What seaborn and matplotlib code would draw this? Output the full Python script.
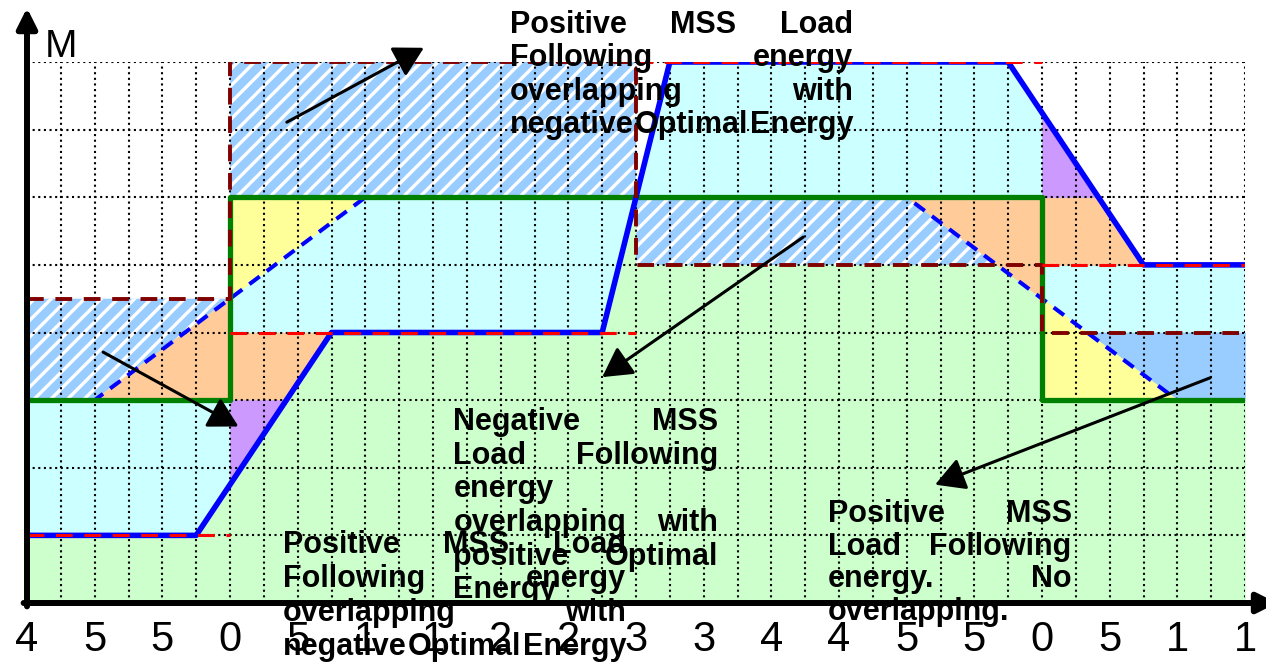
import numpy as np
import matplotlib
matplotlib.use("Agg")
import matplotlib.pyplot as plt
import seaborn as sns

# ---------------------------------------------------------------- data
# time axis: 36 grid columns, labelled every second column
tick_pos = list(range(0, 37, 2))
tick_labels = ["4", "5", "5", "0", "5", "1", "1", "2", "2", "3",
               "3", "4", "4", "5", "5", "0", "5", "1", "1"]

# MSS load demand (step) and the MSS load-following trajectory (ramped)
load_edges = [0, 6, 18, 30]
load_levels = [1, 4, 8, 5]
follow_x = [0, 5, 9, 17, 19, 29, 33, 36]
follow_y = [1, 1, 4, 4, 8, 8, 5, 5]

# optimal energy set-point (step) and its ramped trajectory
opt_edges = [0, 6, 30]
opt_levels = [3, 6, 3]
opt_ramp_x = [0, 2, 10, 26, 34, 36]
opt_ramp_y = [3, 3, 6, 6, 3, 3]

# band limit; flags mark the segments whose band overlaps
band_edges = [0, 6, 18, 30]
band_levels = [4.5, 8, 5, 4]
band_overlap = [True, True, True, False]

X_END = 36
Y_TOP = 8

# annotation arrows: (start, tip)
arrows = [((7.68, 7.11), (11.73, 8.21)),
          ((2.25, 3.71), (6.25, 2.61)),
          ((22.94, 5.41), (17.00, 3.34)),
          ((34.97, 3.33), (26.84, 1.75))]

notes = [
    [["Positive", "MSS", "Load"], ["Following", "energy"],
     ["overlapping", "with"], ["negative", "Optimal", "Energy"]],
    [["Positive", "MSS", "Load"], ["Following", "energy"],
     ["overlapping", "with"], ["negative", "Optimal", "Energy"]],
    [["Negative", "MSS"], ["Load", "Following"], ["energy"],
     ["overlapping", "with"], ["positive", "Optimal"], ["Energy"]],
    [["Positive", "MSS"], ["Load", "Following"], ["energy.", "No"],
     ["overlapping."]],
]

# ---------------------------------------------------------------- style
sns.set_style("white")
plt.rcParams["font.family"] = ["Liberation Sans", "DejaVu Sans"]
plt.rcParams["text.color"] = "black"
plt.rcParams["xtick.color"] = "black"
plt.rcParams["xtick.labelcolor"] = "black"
plt.rcParams["hatch.linewidth"] = 2.4
plt.rcParams["hatch.color"] = "white"

C_GREEN_FILL = "#CCFFCC"
C_CYAN = "#CCFFFF"
C_BLUE_FILL = "#99CCFF"
C_ORANGE = "#FFCC99"
C_PURPLE = "#CC99FF"
C_YELLOW = "#FFFF99"
C_GREEN = "#008000"
C_BLUE = "#0000FF"
C_RED = "#FF0000"
C_MAROON = "#800000"

W, H = 1266, 665
fig = plt.figure(figsize=(W / 100, H / 100), dpi=100)
ax = fig.add_axes([27 / W, 62 / H, 1218 / W, 541 / H])
ax.set_xlim(0, X_END)
ax.set_ylim(0, Y_TOP)
for sp in ax.spines.values():
    sp.set_visible(False)

# ---------------------------------------------------------------- curves on a fine grid
xs = np.linspace(0, X_END, 36001)


def step_values(edges, levels):
    idx = np.searchsorted(edges, xs, side="right") - 1
    return np.asarray(levels, float)[idx]


S = step_values(load_edges, load_levels)
L = np.interp(xs, follow_x, follow_y)
O = step_values(opt_edges, opt_levels)
R = np.interp(xs, opt_ramp_x, opt_ramp_y)
B = step_values(band_edges, band_levels)
hatched = np.asarray(band_overlap)[np.searchsorted(band_edges, xs, side="right") - 1]

load_lo, load_hi = np.minimum(L, S), np.maximum(L, S)
opt_lo, opt_hi = np.minimum(O, R), np.maximum(O, R)


def fill(lo, hi, mask=None, color="none", hatch=None):
    where = hi > lo + 1e-9
    if mask is not None:
        where &= mask
    if hatch:
        ax.fill_between(xs, lo, hi, where=where, facecolor=color,
                        edgecolor="white", hatch=hatch, linewidth=0, zorder=1)
    else:
        ax.fill_between(xs, lo, hi, where=where, facecolor=color,
                        edgecolor=color, linewidth=0.5, zorder=1)


# area under every curve
fill(np.zeros_like(xs), np.minimum.reduce([L, O, R, B]), color=C_GREEN_FILL)

# gap between the load band and the optimal band
below = load_hi <= opt_lo
gap_lo = np.where(below, load_hi, opt_hi)
gap_hi = np.where(below, opt_lo, load_lo)
fill(gap_lo, gap_hi, color=C_CYAN)

# band limit against the optimal envelope
above = B >= opt_hi
b_lo = np.where(above, opt_hi, B)
b_hi = np.where(above, B, opt_lo)
fill(b_lo, b_hi, hatched, color=C_BLUE_FILL, hatch="//")
fill(b_lo, b_hi, ~hatched, color=C_BLUE_FILL)

# optimal ramp: leading part before a set-point step, lagging part after
o_steps = np.asarray(opt_edges[1:], float)
nearest = o_steps[np.argmin(np.abs(xs[:, None] - o_steps[None, :]), axis=1)]
leading = xs < nearest
fill(opt_lo, opt_hi, leading, color=C_ORANGE)
fill(opt_lo, opt_hi, ~leading, color=C_YELLOW)

# load-following lag after steps shared by load and optimal set-point
for e in sorted(set(load_edges[1:]) & set(opt_edges[1:])):
    start = np.searchsorted(xs, e)
    meet = np.nonzero(np.abs(L[start + 1:] - S[start + 1:]) < 1e-9)[0]
    x_end = xs[start + 1 + meet[0]] if meet.size else X_END
    win = (xs >= e) & (xs <= x_end)
    o_old = opt_levels[opt_edges.index(e) - 1]
    s_new = load_levels[load_edges.index(e)]
    i_lo, i_hi = min(o_old, s_new), max(o_old, s_new)
    fill(np.maximum(load_lo, i_lo), np.minimum(load_hi, i_hi), win, color=C_ORANGE)
    if s_new > o_old:
        fill(load_lo, np.minimum(load_hi, o_old), win, color=C_PURPLE)
    else:
        fill(np.maximum(load_lo, o_old), load_hi, win, color=C_PURPLE)

# ---------------------------------------------------------------- grid
dots = (0, (1, 1.7))
ax.vlines(np.arange(1, X_END + 1), 0, Y_TOP, colors="black",
          linestyles=dots, linewidth=1.5, zorder=2)
ax.hlines(np.arange(1, Y_TOP + 1), 0, X_END, colors="black",
          linestyles=dots, linewidth=1.5, zorder=2)

# ---------------------------------------------------------------- lines
sns.lineplot(x=opt_ramp_x, y=opt_ramp_y, estimator=None, sort=False, ax=ax,
             color=C_BLUE, linewidth=2.9, linestyle=(0, (3.2, 2.2)), zorder=3)
sns.lineplot(x=opt_edges + [X_END], y=opt_levels + [opt_levels[-1]],
             estimator=None, sort=False, ax=ax, drawstyle="steps-post",
             color=C_GREEN, linewidth=3.8, zorder=4)
sns.lineplot(x=follow_x, y=follow_y, estimator=None, sort=False, ax=ax,
             color=C_BLUE, linewidth=4.0, zorder=5)
sns.lineplot(x=band_edges + [X_END], y=band_levels + [band_levels[-1]],
             estimator=None, sort=False, ax=ax, drawstyle="steps-post",
             color=C_MAROON, linewidth=2.8, linestyle=(0, (4.3, 3.0)), zorder=6)
ax.hlines(load_levels, load_edges, load_edges[1:] + [X_END], colors=C_RED,
          linestyles=(0, (5.5, 3.8)), linewidth=2.2, zorder=7)

# ---------------------------------------------------------------- axes with arrow heads
axis_kw = dict(arrowstyle="-|>,head_length=1.0,head_width=0.5", color="black",
               lw=4.3, mutation_scale=12, shrinkA=0, shrinkB=0, clip_on=False)
ax.annotate("", xy=(0, 8.80), xytext=(0, -0.05), arrowprops=axis_kw,
            annotation_clip=False, zorder=10)
ax.annotate("", xy=(36.95, 0), xytext=(-0.1, 0), arrowprops=axis_kw,
            annotation_clip=False, zorder=10)
ax.text(0.53, 8.074, "M", fontsize=28, va="baseline", ha="left", color="black")

ax.set_xticks(tick_pos, tick_labels)
ax.set_yticks([])
ax.tick_params(axis="x", length=0, pad=12, labelsize=30, labelcolor="black")

for (x0, y0), (x1, y1) in arrows:
    ax.annotate("", xy=(x1, y1), xytext=(x0, y0), annotation_clip=False, zorder=8,
                arrowprops=dict(arrowstyle="-|>,head_length=0.9,head_width=0.5",
                                color="black", lw=2.2, mutation_scale=20,
                                shrinkA=0, shrinkB=0, clip_on=False))

# ---------------------------------------------------------------- justified text blocks
renderer = fig.canvas.get_renderer()
to_data = ax.transData.inverted()


def justified(lines, left, right, top, step, size=22):
    for i, words in enumerate(lines):
        y = top - i * step
        texts = [ax.text(0, y, w, fontsize=size, fontweight="bold", color="black",
                         va="baseline", ha="left", zorder=9) for w in words]
        widths = []
        for t in texts:
            bb = t.get_window_extent(renderer)
            widths.append(to_data.transform((bb.x1, 0))[0] - to_data.transform((bb.x0, 0))[0])
        gap = 0 if len(words) == 1 else (right - left - sum(widths)) / (len(words) - 1)
        x = left
        for t, w in zip(texts, widths):
            t.set_x(x)
            x += w + gap


justified(notes[0], 14.276, 24.414, 8.433, 0.4954)
justified(notes[1], 7.558, 17.705, 0.739, 0.503)
justified(notes[2], 12.60, 20.424, 2.558, 0.498)
justified(notes[3], 23.666, 30.878, 1.202, 0.485)

fig.savefig("out.png", dpi=100, facecolor="white")
